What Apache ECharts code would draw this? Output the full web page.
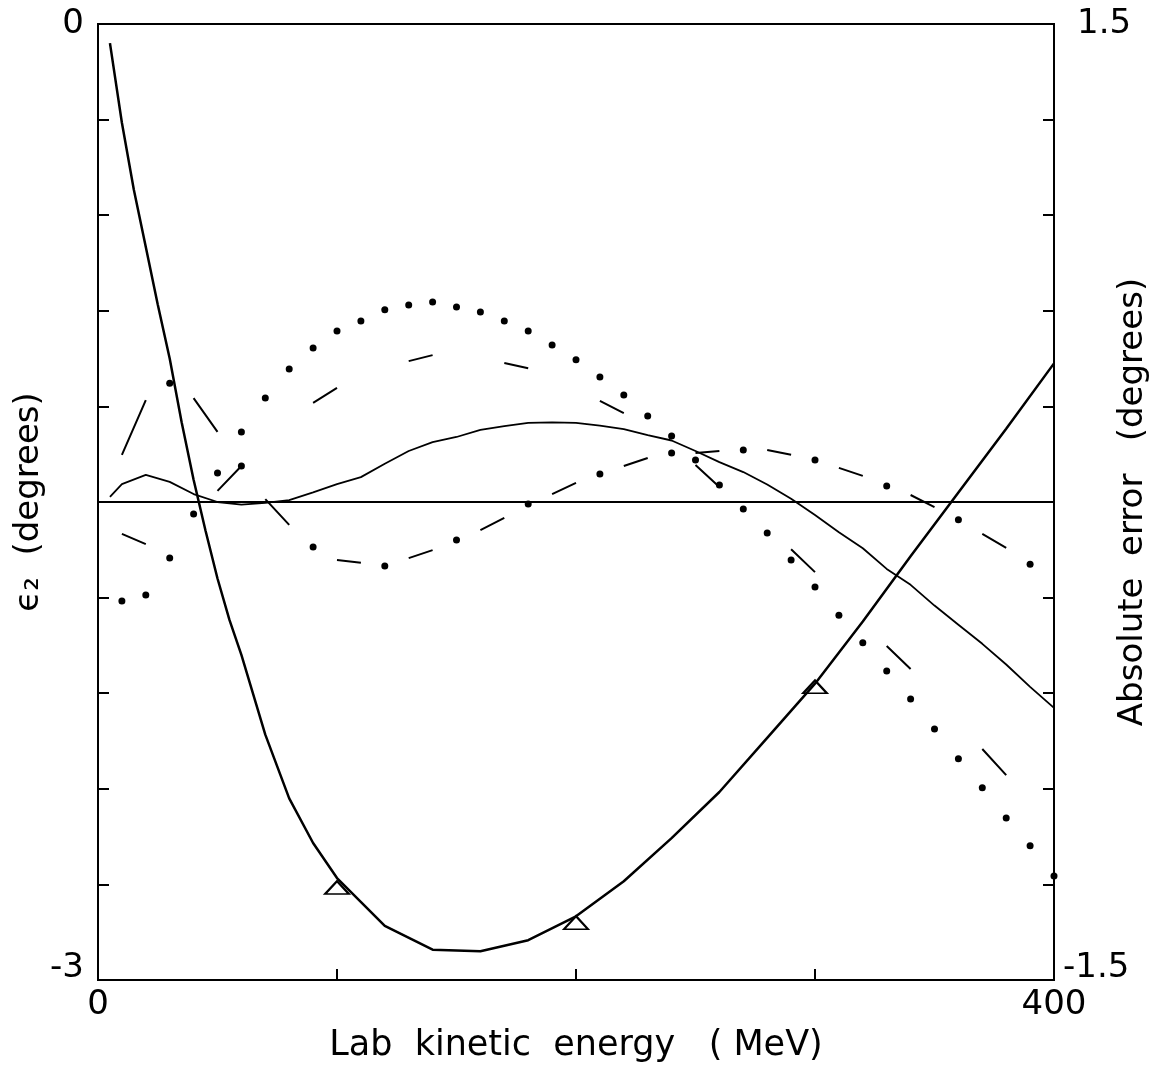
<!DOCTYPE html>
<html><head><meta charset="utf-8">
<script src="https://cdn.jsdelivr.net/npm/echarts@6/dist/echarts.min.js"></script>
<style>html,body{margin:0;padding:0;background:#fff}#c{width:1155px;height:1070px}</style>
</head><body><div id="c"></div>
<script>
// epsilon_2 (left axis, degrees)
const energyA = [5,10,15,20,25,30,35,40,45,50,55,60,70,80,90,100,120,140,160,180,200,220,240,260,280,300,320,340,360,380,400];
const epsilon2 = [-0.06,-0.31,-0.52,-0.70,-0.88,-1.05,-1.25,-1.43,-1.59,-1.74,-1.87,-1.98,-2.23,-2.43,-2.57,-2.68,-2.83,-2.905,-2.91,-2.875,-2.80,-2.69,-2.555,-2.41,-2.24,-2.07,-1.875,-1.67,-1.47,-1.27,-1.065];
// triangle markers (left axis)
const triEnergy = [100,200,300];
const triEps = [-2.71,-2.82,-2.08];
// absolute error curves (right axis)
const energyStep = [10,20,30,40,50,60,70,80,90,100,110,120,130,140,150,160,170,180,190,200,210,220,230,240,250,260,270,280,290,300,310,320,330,340,350,360,370,380,390,400];
const errDotted = [-0.311,-0.292,-0.176,-0.038,0.091,0.220,0.326,0.417,0.483,0.537,0.568,0.603,0.618,0.628,0.612,0.596,0.568,0.537,0.493,0.446,0.392,0.336,0.270,0.207,0.132,0.053,-0.022,-0.097,-0.182,-0.267,-0.355,-0.442,-0.530,-0.618,-0.712,-0.806,-0.897,-0.992,-1.079,-1.174];
const errDashed = [-0.100,-0.132,-0.100,-0.035,0.035,0.113,0.191,0.260,0.311,0.358,0.389,0.424,0.442,0.461,0.458,0.452,0.436,0.420,0.392,0.358,0.317,0.279,0.226,0.179,0.116,0.047,-0.022,-0.078,-0.148,-0.220,-0.295,-0.367,-0.452,-0.524,-0.609,-0.690,-0.775,-0.857,-0.941,-1.020];
const errDashDot = [0.148,0.320,0.373,0.326,0.220,0.113,0.009,-0.072,-0.141,-0.182,-0.191,-0.201,-0.176,-0.151,-0.119,-0.088,-0.050,-0.006,0.025,0.060,0.088,0.113,0.138,0.154,0.154,0.160,0.163,0.163,0.148,0.132,0.107,0.082,0.050,0.022,-0.016,-0.056,-0.100,-0.144,-0.195];
const energySolid = [5,10,20,30,40,50,60,70,80,90,100,110,120,130,140,150,160,170,180,190,200,210,220,230,240,250,260,270,280,290,300,310,320,330,340,350,360,370,380,390,400];
const errSolid = [0.016,0.056,0.085,0.063,0.025,0.0,-0.008,-0.003,0.006,0.03,0.056,0.078,0.12,0.16,0.188,0.204,0.226,0.238,0.248,0.25,0.248,0.24,0.229,0.21,0.193,0.16,0.125,0.094,0.055,0.01,-0.041,-0.095,-0.145,-0.21,-0.26,-0.325,-0.385,-0.445,-0.51,-0.58,-0.646];
const zeroLineEnergy = [0,400];
const zeroLineErr = [0,0];
// tick labels
const xTickLabels = ['0','400'];
const leftTickLabels = ['0','-3'];
const rightTickLabels = ['1.5','-1.5'];

const FONT = 'DejaVu Sans';
function zip(a,b){return a.map((x,i)=>[x,b[i]]);}
function dashData(E,V,groupLen,period){
  const out=[];
  for(let i=0;i<V.length;i++){
    const k=i%period;
    if(k<groupLen) out.push([E[i],V[i]]);
    if(k===groupLen-1) out.push([E[i]+1,'-']);
  }
  return out;
}
function dotData(E,V,period,idx){
  const out=[];
  for(let i=0;i<V.length;i++){ if(i%period===idx) out.push([E[i],V[i]]); }
  return out;
}
const near=(a,b)=>Math.abs(a-b)<1e-6;

const chart = echarts.init(document.getElementById('c'));
chart.setOption({
  animation:false,
  backgroundColor:'#fff',
  grid:{left:98,top:24,right:101,bottom:90,show:true,borderColor:'#000',borderWidth:2,
    containLabel:false,outerBoundsMode:'none'},
  xAxis:{
    type:'value',min:0,max:400,interval:100,position:'bottom',
    axisLine:{show:true,onZero:false,lineStyle:{color:'#000',width:2}},
    axisTick:{show:true,inside:true,length:11,lineStyle:{color:'#000',width:2}},
    splitLine:{show:false},
    axisLabel:{color:'#000',fontSize:34,fontFamily:FONT,margin:8,
      formatter:v=>near(v,0)?xTickLabels[0]:(near(v,400)?xTickLabels[1]:'')},
    name:'Lab  kinetic  energy   ( MeV)',nameLocation:'middle',nameGap:48,nameMoveOverlap:false,
    nameTextStyle:{color:'#000',fontSize:35,fontFamily:FONT}
  },
  yAxis:[{
    type:'value',min:-3,max:0,interval:0.3,position:'left',
    axisLine:{show:true,onZero:false,lineStyle:{color:'#000',width:2}},
    axisTick:{show:true,inside:true,length:11,lineStyle:{color:'#000',width:2}},
    splitLine:{show:false},
    axisLabel:{color:'#000',fontSize:34,fontFamily:FONT,margin:14,
      formatter:v=>near(v,0)?'{a|'+leftTickLabels[0]+'}':(near(v,-3)?'{b|'+leftTickLabels[1]+'}':''),
      rich:{a:{fontSize:34,fontFamily:FONT,color:'#000'},b:{fontSize:34,fontFamily:FONT,color:'#000',padding:[0,0,24,0]}}},
    name:'ϵ₂  (degrees)',nameLocation:'middle',nameRotate:90,nameGap:52,nameMoveOverlap:false,
    nameTextStyle:{color:'#000',fontSize:34,fontFamily:FONT}
  },{
    type:'value',min:-1.5,max:1.5,interval:0.3,position:'right',
    axisLine:{show:true,onZero:false,lineStyle:{color:'#000',width:2}},
    axisTick:{show:true,inside:true,length:11,lineStyle:{color:'#000',width:2}},
    splitLine:{show:false},
    axisLabel:{color:'#000',fontSize:34,fontFamily:FONT,margin:9,
      formatter:v=>near(v,1.5)?'{a|'+rightTickLabels[0]+'}':(near(v,-1.5)?'{b|'+rightTickLabels[1]+'}':''),
      rich:{a:{fontSize:34,fontFamily:FONT,color:'#000',padding:[0,0,0,14]},b:{fontSize:34,fontFamily:FONT,color:'#000',padding:[0,0,24,0]}}},
    name:'Absolute  error   (degrees)',nameLocation:'middle',nameRotate:90,nameGap:62,nameMoveOverlap:false,
    nameTextStyle:{color:'#000',fontSize:34,fontFamily:FONT}
  }],
  series:[
    {type:'line',yAxisIndex:0,data:zip(energyA,epsilon2),symbol:'none',smooth:false,
      lineStyle:{color:'#000',width:2.5},silent:true,z:3},
    {type:'scatter',yAxisIndex:0,data:zip(triEnergy,triEps),symbol:'triangle',symbolSize:[24,13],
      itemStyle:{color:'rgba(0,0,0,0)',borderColor:'#000',borderWidth:2,opacity:1},silent:true,z:4},
    {type:'line',yAxisIndex:1,data:zip(zeroLineEnergy,zeroLineErr),symbol:'none',
      lineStyle:{color:'#000',width:2},silent:true},
    {type:'line',yAxisIndex:1,data:zip(energySolid,errSolid),symbol:'none',smooth:false,
      lineStyle:{color:'#000',width:1.8},silent:true},
    {type:'line',yAxisIndex:1,data:dashData(energyStep,errDashed,2,4),symbol:'none',connectNulls:false,
      lineStyle:{color:'#000',width:2},silent:true},
    {type:'line',yAxisIndex:1,data:dashData(energyStep,errDashDot,2,3),symbol:'none',connectNulls:false,
      lineStyle:{color:'#000',width:2},silent:true},
    {type:'scatter',yAxisIndex:1,data:dotData(energyStep,errDashDot,3,2),symbol:'circle',symbolSize:7,
      itemStyle:{color:'#000',opacity:1},silent:true},
    {type:'scatter',yAxisIndex:1,data:zip(energyStep,errDotted),symbol:'circle',symbolSize:7,
      itemStyle:{color:'#000',opacity:1},silent:true}
  ]
});
</script></body></html>
